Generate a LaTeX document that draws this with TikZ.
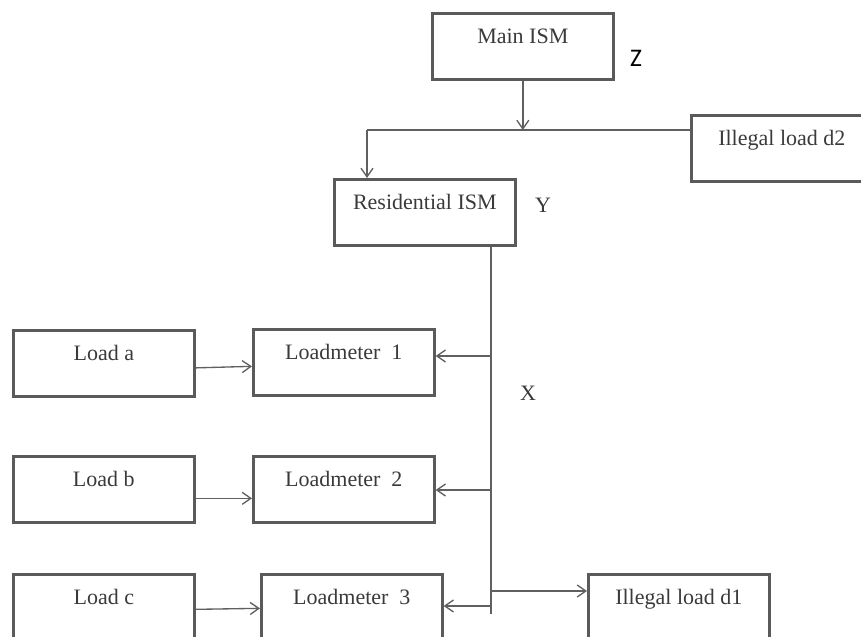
\documentclass[tikz,border=0pt]{standalone}
\usepackage{fontspec}
\setmainfont{Liberation Serif}
\newfontfamily\zfont{Carlito}
\usetikzlibrary{arrows.meta, positioning}
\definecolor{boxgray}{HTML}{5A5A5A}
\definecolor{linegray}{HTML}{606060}
\definecolor{txtgray}{HTML}{3A3A3A}

\begin{document}
\begin{tikzpicture}[x=0.75pt, y=-0.75pt,
  box/.style={draw=boxgray, line width=2pt, anchor=north west, minimum width=181*0.75pt, inner ysep=0pt, text height=22.5pt, text depth=27pt, text=txtgray, font=\fontsize{16.5}{18}\selectfont},
  wire/.style={draw=linegray, line width=1pt},
  feed/.style={wire, -{Straight Barb[length=6.5pt, width=9pt, line width=1pt]}},
  tag/.style={text=txtgray, font=\fontsize{16.5}{18}\selectfont}]
  \useasboundingbox (0,0) rectangle (861,636);
  \clip (0,0) rectangle (861,636);

  % meters up top
  \node[box] (main) at (431,12) {Main ISM};
  \node[box] (d2) at (690,114) {Illegal load d2};
  \node[box] (res) at (333,178) {Residential ISM};

  % loads and their meters
  \node[box] (la) at (12,329) {Load a};
  \node[box] (lm1) at (252,328) {Loadmeter\ \ 1};
  \node[box] (lb) at (12,455) {Load b};
  \node[box] (lm2) at (252,455) {Loadmeter\ \ 2};
  \node[box] (lc) at (12,573) {Load c};
  \node[box] (lm3) at (260,573) {Loadmeter\ \ 3};
  \node[box] (d1) at (587,573) {Illegal load d1};

  \node[font=\zfont\fontsize{19}{20}\selectfont] (zlab) at (636,58) {Z};
  \node[tag] (ylab) at (543,205) {Y};
  \node[tag] (xlab) at (528,393) {X};

  \coordinate (tee) at (367,130);
  \coordinate (bus) at (491,614);
  \coordinate (b1) at (491,356);
  \coordinate (b2) at (491,490);
  \coordinate (bd) at (491,591);
  \coordinate (b3) at (491,606);

  \draw[feed] (main.south) -- (main.south |- tee);
  \draw[wire] (d2.west |- tee) -- (tee);
  \draw[feed] (tee) -- (res.north -| tee);

  \draw[wire] (res.south -| bus) -- (bus);
  \draw[feed] (b1) -- (lm1.east |- b1);
  \draw[feed] (b2) -- (lm2.east |- b2);
  \draw[feed] (b3) -- (lm3.east |- b3);
  \draw[feed] (bd) -- (d1.west |- bd);

  \draw[feed] ([yshift=-3.4pt]la.east) -- ([yshift=-3pt]lm1.west);
  \draw[feed] ([yshift=-6.75pt]lb.east) -- ([yshift=-6.75pt]lm2.west);
  \draw[feed] ([yshift=-1.5pt]lc.east) -- ([yshift=-0.75pt]lm3.west);
\end{tikzpicture}
\end{document}
